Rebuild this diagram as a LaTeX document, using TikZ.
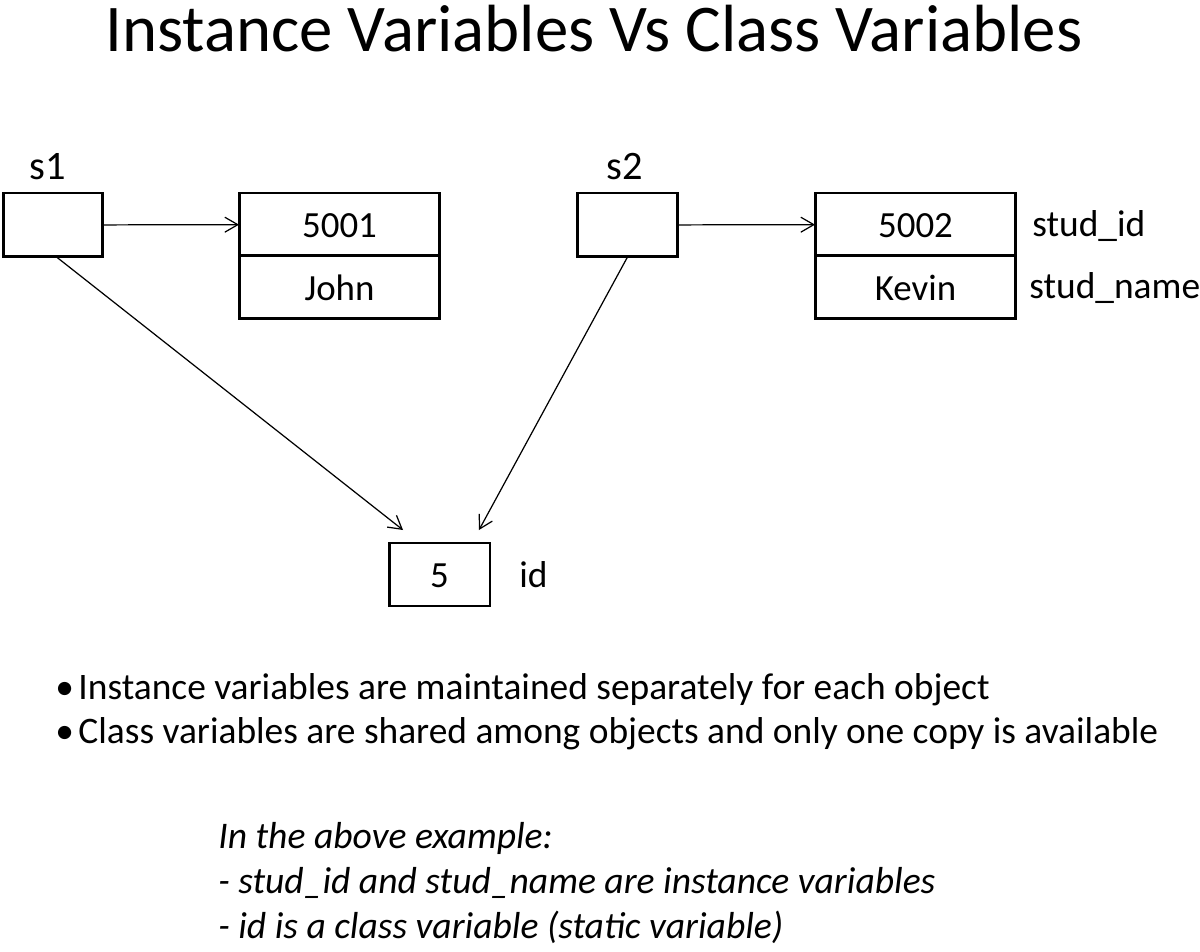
\documentclass[tikz,border=0pt]{standalone}
\usepackage{fontspec}
\setmainfont{Carlito}
\usetikzlibrary{positioning, arrows.meta}

\begin{document}
\begin{tikzpicture}[x=0.02cm, y=-0.02cm,
    refbox/.style={draw, line width=1.7pt, outer sep=0pt,
      minimum width=2cm, minimum height=1.28cm},
    cell/.style={draw, line width=1.7pt, outer sep=0pt, font=\fontsize{21}{22}\selectfont,
      text height=1.45em, text depth=0pt, minimum width=4.02cm, minimum height=1.26cm},
    conn/.style={line width=0.7pt, -{Straight Barb[length=2.6mm, width=3mm]}},
    lbl/.style={font=\fontsize{21.3}{24}\selectfont, inner sep=0pt},
    txt/.style={font=\fontsize{21.3}{24}\selectfont, inner sep=0pt, anchor=base west}]
  \useasboundingbox (0,0) rectangle (1200,952);
  % title
  \node[font=\fontsize{38}{44}\selectfont, inner sep=0pt, anchor=base] (title) at (594,52)
    {Instance Variables Vs Class Variables};
  % first object
  \node[refbox] (s1) at (53,225) {};
  \node[lbl, font=\fontsize{23}{26}\selectfont, anchor=base] (s1lbl) at (48,180) {s1};
  \node[cell] (id1) at (339.5,224.5) {5001};
  \node[cell, below=0pt of id1] (name1) {John};
  % second object
  \node[refbox] (s2) at (627.5,225) {};
  \node[lbl, font=\fontsize{23}{26}\selectfont, anchor=base] (s2lbl) at (625,180) {s2};
  \node[cell] (id2) at (915.5,224.5) {5002};
  \node[cell, below=0pt of id2] (name2) {Kevin};
  \node[lbl, anchor=base west] (studid) at (1032,237) {stud\_id};
  \node[lbl, anchor=base west] (studname) at (1029,299) {stud\_name};
  % shared class variable
  \node[cell, minimum width=2.02cm] (idbox) at (439.5,574.5) {5};
  \node[lbl, anchor=base west] (idlbl) at (519,587) {id};
  \coordinate (inL) at ([shift={(14,-13)}]idbox.north west);
  \coordinate (inR) at ([shift={(-11,-13)}]idbox.north east);
  % references
  \draw[conn] (s1) -- (id1);
  \draw[conn] (s2) -- (id2);
  \draw[conn] ([xshift=2]s1.south) -- (inL);
  \draw[conn] (s2.south) -- (inR);
  % notes
  \node[txt] (pt1) at (55,699) {\textbullet\hspace{0.12em}Instance variables are maintained separately for each object};
  \node[txt] (pt2) at (55,743) {\textbullet\hspace{0.12em}Class variables are shared among objects and only one copy is available};
  \foreach \t [count=\i] in {In the above example:,
      - stud\_id and stud\_name are instance variables,
      - id is a class variable (static variable)}
    \node[txt, font=\fontsize{21.4}{24}\selectfont\itshape] (note\i) at (218,803+45*\i) {\t};
\end{tikzpicture}
\end{document}
